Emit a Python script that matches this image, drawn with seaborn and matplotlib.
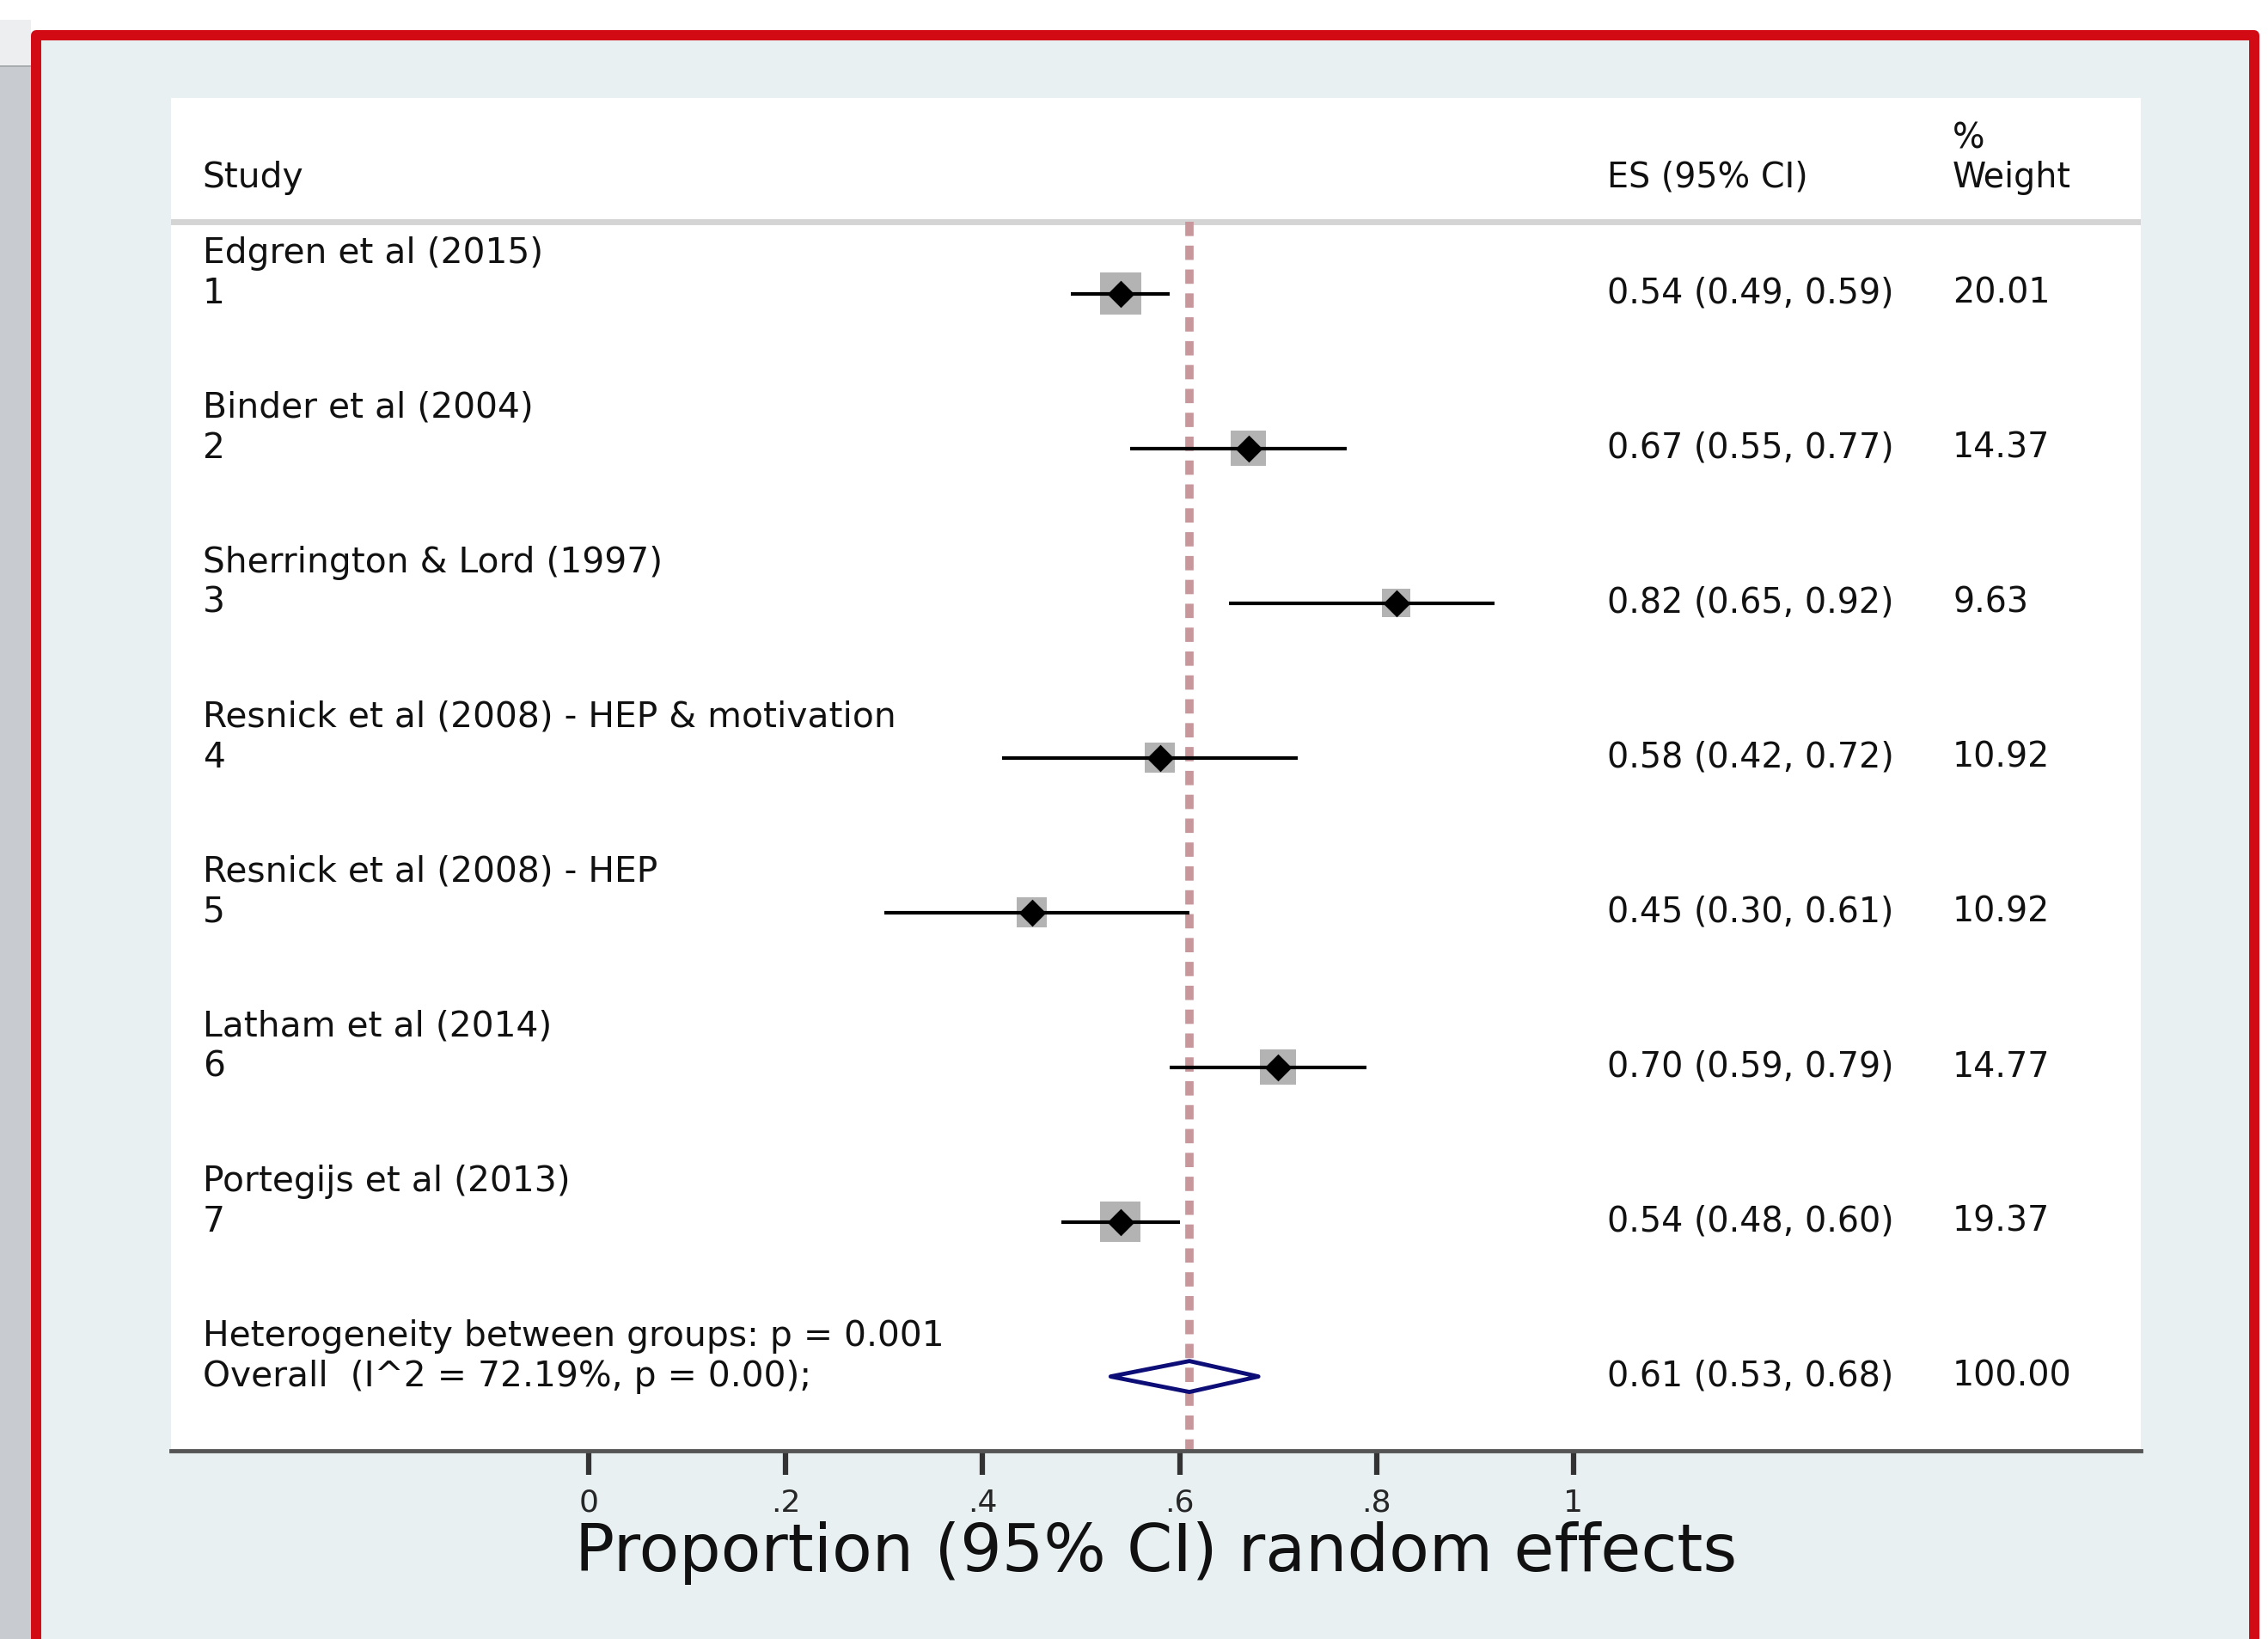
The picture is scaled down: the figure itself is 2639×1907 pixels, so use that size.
import matplotlib
matplotlib.use("Agg")
import matplotlib.pyplot as plt
import matplotlib.patches as mpatches
import seaborn as sns
import pandas as pd
import numpy as np

# forest plot data
studies = ["Edgren et al (2015)", "Binder et al (2004)", "Sherrington & Lord (1997)",
           "Resnick et al (2008) - HEP & motivation", "Resnick et al (2008) - HEP",
           "Latham et al (2014)", "Portegijs et al (2013)"]
study_ids = ["1", "2", "3", "4", "5", "6", "7"]
es = [0.54, 0.67, 0.82, 0.58, 0.45, 0.70, 0.54]
ci_low = [0.49, 0.55, 0.65, 0.42, 0.30, 0.59, 0.48]
ci_high = [0.59, 0.77, 0.92, 0.72, 0.61, 0.79, 0.60]
weights = [20.01, 14.37, 9.63, 10.92, 10.92, 14.77, 19.37]

overall_es = 0.61
overall_low = 0.53
overall_high = 0.68
overall_weight = 100.00
het_label = "Heterogeneity between groups: p = 0.001"
overall_label = "Overall  (I^2 = 72.19%, p = 0.00);"

x_ticks = [0, 0.2, 0.4, 0.6, 0.8, 1]
x_ticklabels = ["0", ".2", ".4", ".6", ".8", "1"]
x_title = "Proportion (95% CI) random effects"

sns.set_style("white")
plt.rcParams['font.family'] = ['DejaVu Sans']
plt.rcParams['lines.scale_dashes'] = False

W, H = 2639, 1907
fig = plt.figure(figsize=(W / 100, H / 100), dpi=100)
fig.patch.set_facecolor("white")

# window chrome around the graph
fig.patches.append(mpatches.Rectangle((0, 0), 36 / W, 1 - 78 / H, transform=fig.transFigure,
                                      facecolor="#c8ccd0", edgecolor="none", zorder=-3))
fig.patches.append(mpatches.Rectangle((0, 1 - 78 / H), 36 / W, 55 / H, transform=fig.transFigure,
                                      facecolor="#eceeef", edgecolor="none", zorder=-3))
fig.patches.append(mpatches.Rectangle((0, 1 - 78 / H), 36 / W, 2 / H, transform=fig.transFigure,
                                      facecolor="#a9acaf", edgecolor="none", zorder=-3))
fig.patches.append(mpatches.Rectangle((42 / W, -20 / H), (2623 - 42) / W, (H - 41 + 20) / H,
                                      transform=fig.transFigure, facecolor="#e8f0f2",
                                      edgecolor="#d20a14", linewidth=8.6, joinstyle="round",
                                      zorder=-2))

ax = fig.add_axes([199 / W, 1 - 1688 / H, (2491 - 199) / W, (1688 - 114) / H])
ax.set_facecolor("white")

df = pd.DataFrame({"study": studies, "es": es, "lo": ci_low, "hi": ci_high, "weight": weights})
df["row"] = np.arange(len(df))
overall_row = len(df)

# weight boxes
sns.scatterplot(data=df, x="es", y="row", size="weight", sizes=(0, 1200),
                size_norm=(0, max(weights)), marker="s", color="#b3b3b3",
                linewidth=0, legend=False, ax=ax, zorder=2)

# overall effect reference line
header_y = -0.464
ax.plot([overall_es, overall_es], [header_y, overall_row + 0.5], color="#c8979c",
        lw=7, dashes=(12, 8), solid_capstyle="butt", dash_capstyle="butt", zorder=2.5)

ax.hlines(df["row"], df["lo"], df["hi"], color="black", lw=3, zorder=3)
sns.scatterplot(data=df, x="es", y="row", marker="D", s=260, color="black",
                linewidth=0, legend=False, ax=ax, zorder=4)

ax.fill([overall_low, overall_es, overall_high, overall_es],
        [overall_row, overall_row - 0.1, overall_row, overall_row + 0.1],
        facecolor="none", edgecolor="#0d0d78", lw=3.5, joinstyle="round", zorder=4)

ax.axhline(header_y, color="#d4d4d4", lw=5, zorder=1)

fs = 28.5
x_name, x_es, x_w = -0.392, 1.034, 1.385
txt = dict(fontsize=fs, va="center", ha="left", color="#111111")
name_txt = dict(txt, fontsize=29.3)
ax.text(x_name, -0.748, "Study", **name_txt)
ax.text(x_es, -0.748, "ES (95% CI)", **txt)
ax.text(x_w, -0.998, "%", **txt)
ax.text(x_w, -0.748, "Weight", **txt)

for i, r in df.iterrows():
    ax.text(x_name, r["row"] - 0.26, r["study"], **name_txt)
    ax.text(x_name, r["row"], study_ids[i], **name_txt)
    ax.text(x_es, r["row"], f"{r['es']:.2f} ({r['lo']:.2f}, {r['hi']:.2f})", **txt)
    ax.text(x_w, r["row"], f"{r['weight']:.2f}", **txt)

ax.text(x_name, overall_row - 0.26, het_label, **name_txt)
ax.text(x_name, overall_row, overall_label, **name_txt)
ax.text(x_es, overall_row, f"{overall_es:.2f} ({overall_low:.2f}, {overall_high:.2f})", **txt)
ax.text(x_w, overall_row, f"{overall_weight:.2f}", **txt)

ax.set_xlim(-0.424, 1.576)
ax.set_ylim(7.48, -1.264)
ax.set_yticks([])
ax.set_ylabel("")
ax.set_xticks(x_ticks)
ax.set_xticklabels(x_ticklabels, fontsize=26)
ax.tick_params(axis="x", direction="out", length=20, width=4.5, color="#333333",
               pad=11.5, bottom=True)
for side in ["top", "left", "right"]:
    ax.spines[side].set_visible(False)
ax.spines["bottom"].set_color("#555555")
ax.spines["bottom"].set_linewidth(3.5)

ax.set_xlabel(x_title, fontsize=55, color="#111111")
ax.xaxis.label.set_va("center")
ax.xaxis.set_label_coords(0.5, -0.0756)

fig.savefig("out.png", dpi=100)
